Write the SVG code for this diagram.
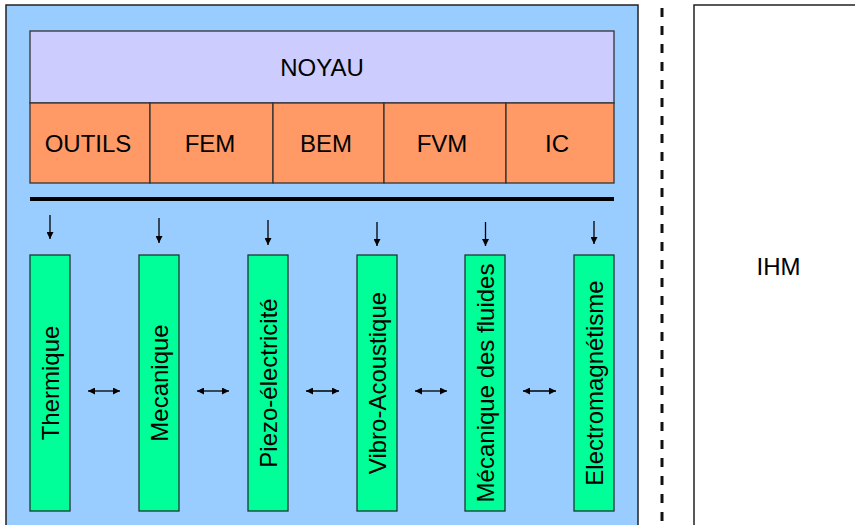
<svg xmlns="http://www.w3.org/2000/svg" width="855" height="525" viewBox="0 0 855 525">
  <defs>
    <style>
      text { font-family: "Liberation Sans", Arial, sans-serif; font-size: 24px; fill: #000; text-anchor: middle; }
      .box { stroke: #333; stroke-width: 1.3; }
      .bar { fill: #00FF99; stroke: #1a3a30; stroke-width: 1.3; }
      .conn { stroke: #000; stroke-width: 1.3; fill: none; }
    </style>
    <marker id="ah" viewBox="0 0 10 10" refX="10" refY="5" markerWidth="7" markerHeight="7" markerUnits="userSpaceOnUse" orient="auto-start-reverse">
      <path d="M0,0 L10,5 L0,10 z" fill="#000"/>
    </marker>
  </defs>

  <rect width="855" height="525" fill="#fff"/>

  <g id="container">
    <rect x="6" y="5" width="632" height="560" fill="#99CCFF" stroke="#222" stroke-width="1.5"/>
  </g>

  <g id="noyau">
    <rect class="box" x="30" y="31" width="584" height="72" fill="#CCCCFF"/>
    <text x="322" y="76">NOYAU</text>
  </g>

  <g id="outils">
    <rect class="box" x="30" y="103" width="120" height="80" fill="#FF9966"/>
    <text x="88" y="152">OUTILS</text>
  </g>
  <g id="fem">
    <rect class="box" x="150" y="103" width="123" height="80" fill="#FF9966"/>
    <text x="210" y="152">FEM</text>
  </g>
  <g id="bem">
    <rect class="box" x="273" y="103" width="111" height="80" fill="#FF9966"/>
    <text x="326" y="152">BEM</text>
  </g>
  <g id="fvm">
    <rect class="box" x="384" y="103" width="122" height="80" fill="#FF9966"/>
    <text x="442" y="152">FVM</text>
  </g>
  <g id="ic">
    <rect class="box" x="506" y="103" width="108" height="80" fill="#FF9966"/>
    <text x="557" y="152">IC</text>
  </g>

  <g id="bus">
    <rect x="30" y="197" width="584" height="4" fill="#000"/>
  </g>

  <g id="thermique">
    <rect class="bar" x="30" y="255" width="40" height="256"/>
    <text transform="translate(58.5,383) rotate(-90)">Thermique</text>
  </g>
  <g id="mecanique">
    <rect class="bar" x="139" y="255" width="40" height="256"/>
    <text transform="translate(167.5,383) rotate(-90)">Mecanique</text>
  </g>
  <g id="piezo">
    <rect class="bar" x="248" y="255" width="40" height="256"/>
    <text transform="translate(276.5,383) rotate(-90)">Piezo-électricité</text>
  </g>
  <g id="vibro">
    <rect class="bar" x="357" y="255" width="40" height="256"/>
    <text transform="translate(385.5,383) rotate(-90)">Vibro-Acoustique</text>
  </g>
  <g id="fluides">
    <rect class="bar" x="465" y="255" width="40" height="256"/>
    <text transform="translate(493.5,383) rotate(-90)">Mécanique des fluides</text>
  </g>
  <g id="electro">
    <rect class="bar" x="574" y="255" width="40" height="256"/>
    <text transform="translate(602.5,383) rotate(-90)">Electromagnétisme</text>
  </g>

  <g id="ihm">
    <rect x="694" y="5" width="200" height="560" fill="#fff" stroke="#222" stroke-width="1.5"/>
    <text x="778.5" y="275">IHM</text>
  </g>

  <g id="separator">
    <line x1="662" y1="8" x2="662" y2="525" stroke="#111" stroke-width="3" stroke-dasharray="9,9"/>
  </g>

  <g id="connectors">
    <line class="conn" x1="50" y1="215" x2="50" y2="239" marker-end="url(#ah)"/>
    <line class="conn" x1="159" y1="218" x2="159" y2="243" marker-end="url(#ah)"/>
    <line class="conn" x1="268" y1="220" x2="268" y2="245" marker-end="url(#ah)"/>
    <line class="conn" x1="377" y1="222" x2="377" y2="246" marker-end="url(#ah)"/>
    <line class="conn" x1="485.5" y1="222" x2="485.5" y2="246" marker-end="url(#ah)"/>
    <line class="conn" x1="594" y1="221" x2="594" y2="244" marker-end="url(#ah)"/>

    <line class="conn" x1="88" y1="391" x2="120" y2="391" marker-start="url(#ah)" marker-end="url(#ah)"/>
    <line class="conn" x1="197" y1="391" x2="229" y2="391" marker-start="url(#ah)" marker-end="url(#ah)"/>
    <line class="conn" x1="306" y1="391" x2="339" y2="391" marker-start="url(#ah)" marker-end="url(#ah)"/>
    <line class="conn" x1="415" y1="391" x2="447" y2="391" marker-start="url(#ah)" marker-end="url(#ah)"/>
    <line class="conn" x1="523" y1="391" x2="556" y2="391" marker-start="url(#ah)" marker-end="url(#ah)"/>
  </g>
</svg>
